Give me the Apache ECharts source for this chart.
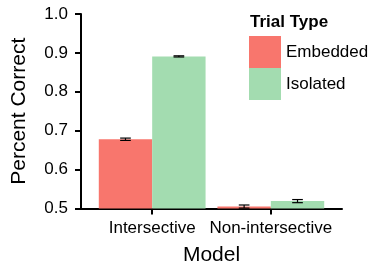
<!DOCTYPE html>
<html lang="en">
<head>
    <meta charset="UTF-8">
    <title>Percent Correct</title>
    <script src="https://cdn.jsdelivr.net/npm/echarts@6/dist/echarts.min.js"></script>
    <style>
        html, body { margin: 0; padding: 0; background: #fff; }
        #chart { width: 371px; height: 264px; }
    </style>
</head>
<body>
<div id="chart"></div>
<script>
    // categories on the x axis (placed at 1 and 2 like a discrete scale)
    var models = ['Intersective', 'Non-intersective'];
    var trialTypes = ['Embedded', 'Isolated'];
    // mean percent correct
    var embedded = [0.678, 0.505];
    var isolated = [0.891, 0.519];
    // standard error
    var embeddedErr = [0.003, 0.004];
    var isolatedErr = [0.0015, 0.004];
    var yTicks = [0.5, 0.6, 0.7, 0.8, 0.9, 1.0];

    var colors = ['#F8766D', '#A3DCB0'];
    var font = 'Liberation Sans, Arial, sans-serif';
    var dodge = 0.225;

    var myChart = echarts.init(document.getElementById('chart'));

    function barData(vals) {
        var out = [];
        for (var i = 0; i < vals.length; i++) {
            out.push([i + 1, vals[i]]);
        }
        return out;
    }

    function errData(vals, errs, shift) {
        var out = [];
        for (var i = 0; i < vals.length; i++) {
            out.push([i + 1 + shift, vals[i] - errs[i], vals[i] + errs[i]]);
        }
        return out;
    }

    function renderErr(params, api) {
        var x = api.value(0);
        var lo = api.coord([x, api.value(1)]);
        var hi = api.coord([x, api.value(2)]);
        var half = api.size([0.045, 0])[0];
        var st = { stroke: '#000', lineWidth: 1.2 };
        return {
            type: 'group',
            children: [
                { type: 'line', shape: { x1: lo[0], y1: lo[1], x2: hi[0], y2: hi[1] }, style: st },
                { type: 'line', shape: { x1: lo[0] - half, y1: lo[1], x2: lo[0] + half, y2: lo[1] }, style: st },
                { type: 'line', shape: { x1: hi[0] - half, y1: hi[1], x2: hi[0] + half, y2: hi[1] }, style: st }
            ]
        };
    }

    var option = {
        animation: false,
        color: colors,
        title: {
            text: 'Trial Type',
            left: 250,
            top: 14,
            padding: 0,
            textStyle: { fontFamily: font, fontSize: 17, fontWeight: 'bold', color: '#000' }
        },
        legend: {
            data: trialTypes,
            orient: 'vertical',
            left: 249,
            top: 36,
            padding: 0,
            itemWidth: 32,
            itemHeight: 32,
            itemGap: 0,
            icon: 'rect',
            textStyle: { fontFamily: font, fontSize: 17, color: '#000' }
        },
        grid: { left: 81, right: 29, top: 14, bottom: 55.5, outerBoundsMode: 'none' },
        xAxis: {
            type: 'value',
            min: 0.4,
            max: 2.6,
            name: 'Model',
            nameLocation: 'middle',
            nameGap: 36,
            nameTextStyle: { fontFamily: font, fontSize: 21, color: '#000' },
            splitLine: { show: false },
            axisLine: { lineStyle: { color: '#000', width: 2 } },
            axisTick: { customValues: [1, 2], length: 6, lineStyle: { color: '#000', width: 2 } },
            axisLabel: {
                customValues: [1, 2],
                margin: 11,
                fontFamily: font,
                fontSize: 17,
                color: '#000',
                formatter: function (v) { return models[Math.round(v) - 1]; }
            }
        },
        yAxis: {
            type: 'value',
            min: 0.5,
            max: 1.0,
            interval: 0.1,
            name: 'Percent Correct',
            nameLocation: 'middle',
            nameGap: 51,
            nameTextStyle: { fontFamily: font, fontSize: 21, color: '#000' },
            splitLine: { show: false },
            axisLine: { show: true, lineStyle: { color: '#000', width: 2 } },
            axisTick: { show: true, length: 6, lineStyle: { color: '#000', width: 2 } },
            axisLabel: {
                margin: 13,
                fontFamily: font,
                fontSize: 17,
                color: '#000',
                formatter: function (v) { return v.toFixed(1); }
            }
        },
        series: [{
            name: trialTypes[0],
            type: 'bar',
            barWidth: '45%',
            barGap: '0%',
            data: barData(embedded)
        }, {
            name: trialTypes[1],
            type: 'bar',
            barWidth: '45%',
            barGap: '0%',
            data: barData(isolated)
        }, {
            name: 'err0',
            type: 'custom',
            renderItem: renderErr,
            encode: { x: 0, y: [1, 2] },
            data: errData(embedded, embeddedErr, -dodge),
            z: 5
        }, {
            name: 'err1',
            type: 'custom',
            renderItem: renderErr,
            encode: { x: 0, y: [1, 2] },
            data: errData(isolated, isolatedErr, dodge),
            z: 5
        }]
    };
    myChart.setOption(option);
</script>
</body>
</html>
